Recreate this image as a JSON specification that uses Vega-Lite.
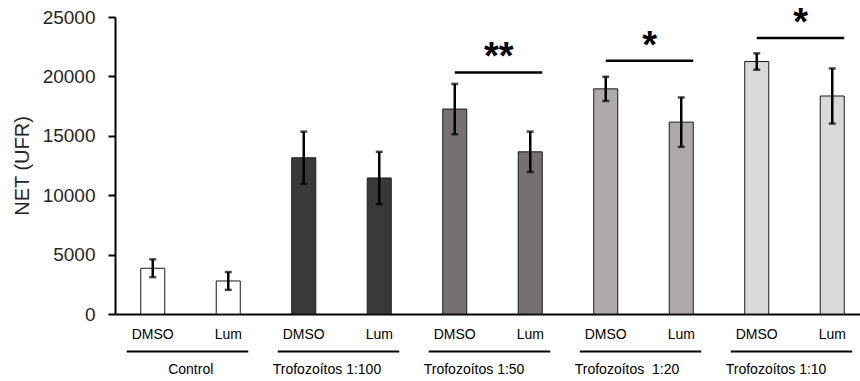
{
  "$schema": "https://vega.github.io/schema/vega-lite/v6.json",
  "autosize": "none",
  "width": 745,
  "height": 297,
  "padding": {"left": 115, "top": 17, "right": 0, "bottom": 67},
  "background": "white",
  "config": {
    "font": "Liberation Sans",
    "view": {"stroke": null},
    "text": {"font": "Liberation Sans"}
  },
  "datasets": {
    "bars": [
      {"key": "Control|DMSO", "g": "Control", "mean": 3850, "err": 750},
      {"key": "Control|Lum", "g": "Control", "mean": 2780, "err": 750},
      {"key": "1:100|DMSO", "g": "1:100", "mean": 13150, "err": 2200},
      {"key": "1:100|Lum", "g": "1:100", "mean": 11450, "err": 2200},
      {"key": "1:50|DMSO", "g": "1:50", "mean": 17250, "err": 2120},
      {"key": "1:50|Lum", "g": "1:50", "mean": 13650, "err": 1700},
      {"key": "1:20|DMSO", "g": "1:20", "mean": 18950, "err": 1020},
      {"key": "1:20|Lum", "g": "1:20", "mean": 16150, "err": 2080},
      {"key": "1:10|DMSO", "g": "1:10", "mean": 21250, "err": 690},
      {"key": "1:10|Lum", "g": "1:10", "mean": 18350, "err": 2320}
    ],
    "groups": [
      {"label": "Control", "dmso": "Control|DMSO", "lum": "Control|Lum"},
      {"label": "Trofozoítos 1:100", "dmso": "1:100|DMSO", "lum": "1:100|Lum"},
      {"label": "Trofozoítos 1:50", "dmso": "1:50|DMSO", "lum": "1:50|Lum"},
      {"label": "Trofozoítos\u00a0 1:20", "dmso": "1:20|DMSO", "lum": "1:20|Lum"},
      {"label": "Trofozoítos 1:10", "dmso": "1:10|DMSO", "lum": "1:10|Lum"}
    ],
    "sig": [
      {"dmso": "1:50|DMSO", "lum": "1:50|Lum", "level": 20330, "star": "**"},
      {"dmso": "1:20|DMSO", "lum": "1:20|Lum", "level": 21320, "star": "*"},
      {"dmso": "1:10|DMSO", "lum": "1:10|Lum", "level": 23230, "star": "*"}
    ]
  },
  "layer": [
    {
      "data": {"name": "bars"},
      "mark": {"type": "bar", "stroke": "#1a1a1a", "strokeWidth": 1},
      "encoding": {
        "x": {
          "field": "key", "type": "nominal", "title": null,
          "scale": {
            "domain": ["Control|DMSO","Control|Lum","1:100|DMSO","1:100|Lum","1:50|DMSO","1:50|Lum","1:20|DMSO","1:20|Lum","1:10|DMSO","1:10|Lum"],
            "range": [0, 755],
            "paddingInner": 0.682,
            "paddingOuter": 0.341
          },
          "axis": {
            "labelExpr": "split(datum.value, '|')[1]",
            "labelAngle": 0,
            "labelFontSize": 14,
            "labelColor": "#000000",
            "labelPadding": 13,
            "ticks": false,
            "tickSize": 0,
            "domainColor": "#000000",
            "domainWidth": 2,
            "grid": false
          }
        },
        "y": {
          "field": "mean", "type": "quantitative", "title": "NET (UFR)",
          "scale": {"domain": [0, 25000], "nice": false},
          "axis": {
            "title": "NET (UFR)",
            "titleFontSize": 20,
            "titleFontWeight": "normal",
            "titleColor": "#262626",
            "titlePadding": 10,
            "values": [0, 5000, 10000, 15000, 20000, 25000],
            "format": "d",
            "labelFontSize": 19,
            "labelColor": "#262626",
            "labelPadding": 13,
            "tickSize": 7,
            "tickWidth": 2,
            "tickColor": "#000000",
            "domainColor": "#000000",
            "domainWidth": 2,
            "grid": false
          }
        },
        "color": {
          "field": "g", "type": "nominal", "legend": null,
          "scale": {
            "domain": ["Control", "1:100", "1:50", "1:20", "1:10"],
            "range": ["#ffffff", "#3b3838", "#767171", "#aeaaaa", "#d9d9d9"]
          }
        }
      }
    },
    {
      "data": {"name": "bars"},
      "mark": {"type": "errorbar", "color": "#000000", "thickness": 2.5, "ticks": {"size": 7, "thickness": 2.5, "color": "#000000"}},
      "encoding": {
        "x": {"field": "key", "type": "nominal", "title": null},
        "y": {"field": "mean", "type": "quantitative", "title": "NET (UFR)"},
        "yError": {"field": "err"}
      }
    },
    {
      "data": {"name": "groups"},
      "mark": {"type": "rule", "color": "#000000", "strokeWidth": 2, "xOffset": -26, "x2Offset": 20},
      "encoding": {
        "x": {"field": "dmso", "type": "nominal", "title": null},
        "x2": {"field": "lum"},
        "y": {"datum": -3150, "title": "NET (UFR)"}
      }
    },
    {
      "data": {"name": "groups"},
      "transform": [{"filter": "datum.label == 'Control'"}],
      "mark": {"type": "text", "fontSize": 14, "color": "#000000", "align": "center", "baseline": "middle", "dx": 38},
      "encoding": {
        "x": {"field": "dmso", "type": "nominal", "title": null},
        "y": {"datum": -4720, "title": "NET (UFR)"},
        "text": {"field": "label"}
      }
    },
    {
      "data": {"name": "groups"},
      "transform": [{"filter": "datum.label != 'Control'"}],
      "mark": {"type": "text", "fontSize": 14, "color": "#000000", "align": "left", "baseline": "middle", "dx": -31},
      "encoding": {
        "x": {"field": "dmso", "type": "nominal", "title": null},
        "y": {"datum": -4720, "title": "NET (UFR)"},
        "text": {"field": "label"}
      }
    },
    {
      "data": {"name": "sig"},
      "mark": {"type": "rule", "color": "#000000", "strokeWidth": 2.5, "x2Offset": 12},
      "encoding": {
        "x": {"field": "dmso", "type": "nominal", "title": null},
        "x2": {"field": "lum"},
        "y": {"field": "level", "type": "quantitative", "title": "NET (UFR)"}
      }
    },
    {
      "data": {"name": "sig"},
      "mark": {"type": "text", "fontSize": 38, "fontWeight": "bold", "color": "#000000", "align": "center", "baseline": "alphabetic", "dx": 44, "dy": -3},
      "encoding": {
        "x": {"field": "dmso", "type": "nominal", "title": null},
        "y": {"field": "level", "type": "quantitative", "title": "NET (UFR)"},
        "text": {"field": "star"}
      }
    }
  ]
}
